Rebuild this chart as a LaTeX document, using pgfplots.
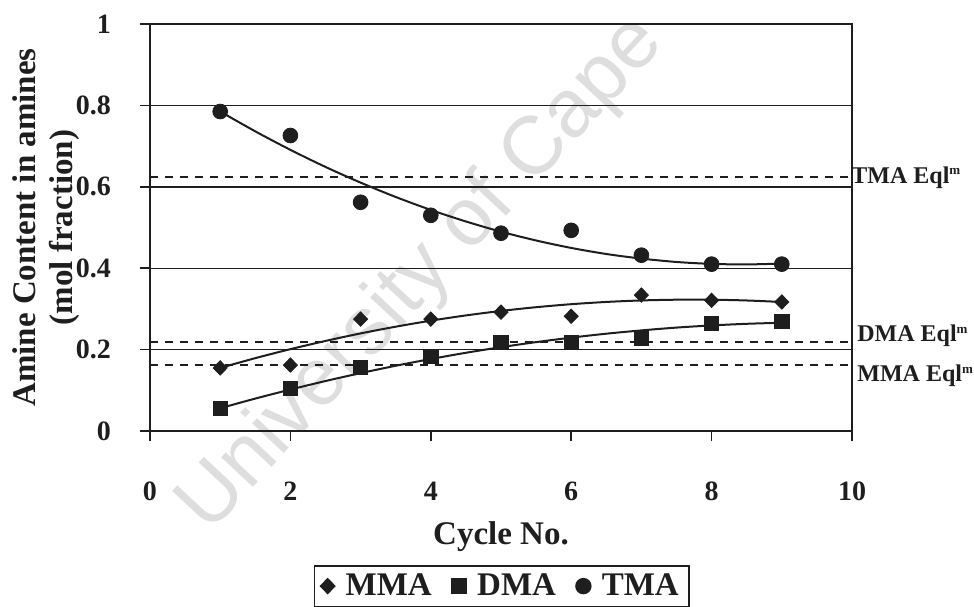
\documentclass[border=0pt]{standalone}
\usepackage{pgfplots}
\pgfplotsset{compat=1.18}
\usepackage{fontspec}
\setmainfont{Liberation Serif}
\setsansfont{Liberation Sans}
\definecolor{ink}{HTML}{1E1E1E}
\definecolor{wm}{HTML}{DEDEDE}
\newcommand{\eqsup}{\raisebox{0.75ex}{\fontsize{6.5}{6.5}\selectfont m}}
\begin{document}
\begin{tikzpicture}[x=1pt,y=1pt]
\node[rotate=47, inner sep=0pt, font=\sffamily\fontsize{41}{41}\selectfont, text=wm] at (136,78) {University of Cape};
\begin{axis}[
 at={(0,0)}, anchor=south west,
 scale only axis, width=351pt, height=203.5pt,
 xmin=0, xmax=10, ymin=0, ymax=1,
 xtick={0,2,4,6,8,10}, ytick={0,0.2,0.4,0.6,0.8,1},
 tick align=outside, xtick pos=left, ytick pos=left,
 major tick length=5pt,
 axis line style={ink, line width=0.8pt},
 tick style={ink, line width=0.8pt},
 ymajorgrids, grid style={ink, line width=0.7pt, solid},
 /pgf/number format/assume math mode=true,
 tick label style={font=\bfseries\fontsize{14}{14}\selectfont, text=ink},
 xticklabel style={yshift=-17pt},
 yticklabel style={xshift=-11pt},
 xlabel={Cycle No.},
 xlabel style={at={(axis description cs:0.5,-0.26)}, anchor=center, font=\bfseries\fontsize{16.5}{16.5}\selectfont, text=ink},
 ylabel={Amine Content in amines\\(mol fraction)},
 ylabel style={at={(axis description cs:-0.0997,0.5)}, anchor=south, align=center, inner sep=0pt, font=\bfseries\fontsize{16.5}{18.5}\selectfont, text=ink},
 clip=false,
 legend columns=3,
 legend style={at={(0.501,-0.329)}, anchor=north, draw=ink, line width=0.8pt,
   font=\bfseries\fontsize{16.5}{16.5}\selectfont, text=ink,
   /tikz/every odd column/.append style={column sep=3.5pt},
   /tikz/every even column/.append style={column sep=8pt}},
]
% equilibrium lines
\addplot[ink, line width=1pt, dash pattern=on 4pt off 3.5pt, forget plot] coordinates {(0,0.623) (10,0.623)};
\addplot[ink, line width=1pt, dash pattern=on 4pt off 3.5pt, forget plot] coordinates {(0,0.218) (10,0.218)};
\addplot[ink, line width=1pt, dash pattern=on 4pt off 3.5pt, forget plot] coordinates {(0,0.162) (10,0.162)};
% trend lines
\addplot[ink, line width=1pt, smooth, no marks, forget plot] coordinates {
(1,0.7850) (1.5,0.7362) (2,0.6908) (2.5,0.6488) (3,0.6103) (3.5,0.5750) (4,0.5432) (4.5,0.5148) (5,0.4897) (5.5,0.4681) (6,0.4498) (6.5,0.4349) (7,0.4236) (7.5,0.4153) (8,0.4106) (8.5,0.4093) (9,0.4114)};
\addplot[ink, line width=1pt, smooth, no marks, forget plot] coordinates {
(1,0.155) (1.5,0.1790) (2,0.2011) (2.5,0.2213) (3,0.2398) (3.5,0.2563) (4,0.2711) (4.5,0.2840) (5,0.2950) (5.5,0.3042) (6,0.3116) (6.5,0.3171) (7,0.3208) (7.5,0.3226) (8,0.3226) (8.5,0.3207) (9,0.3170)};
\addplot[ink, line width=1pt, smooth, no marks, forget plot] coordinates {
(1,0.0560) (1.5,0.0797) (2,0.1019) (2.5,0.1228) (3,0.1422) (3.5,0.1603) (4,0.1769) (4.5,0.1922) (5,0.2060) (5.5,0.2184) (6,0.2294) (6.5,0.2391) (7,0.2472) (7.5,0.2541) (8,0.2594) (8.5,0.2634) (9,0.2660)};
% data
\addplot[only marks, mark=diamond*, mark size=3.6pt, ink, mark options={fill=ink, draw=ink, xscale=1.3}] coordinates {
(1,0.155) (2,0.162) (3,0.275) (4,0.275) (5,0.292) (6,0.282) (7,0.334) (8,0.321) (9,0.317)};
\addlegendentry{MMA}
\addplot[only marks, mark=square*, mark size=3.6pt, ink, mark options={fill=ink, draw=ink}] coordinates {
(1,0.056) (2,0.105) (3,0.157) (4,0.184) (5,0.218) (6,0.218) (7,0.228) (8,0.265) (9,0.270)};
\addlegendentry{DMA}
\addplot[only marks, mark=*, mark size=3.7pt, ink, mark options={fill=ink, draw=ink}] coordinates {
(1,0.785) (2,0.726) (3,0.562) (4,0.530) (5,0.486) (6,0.493) (7,0.432) (8,0.410) (9,0.410)};
\addlegendentry{TMA}
% equilibrium labels
\node[anchor=west, inner sep=0pt, xshift=-0.5pt, font=\bfseries\fontsize{12}{12}\selectfont, text=ink] at (axis cs:10,0.623) {TMA Eql\eqsup};
\node[anchor=west, inner sep=0pt, xshift=2.5pt, font=\bfseries\fontsize{12}{12}\selectfont, text=ink] at (axis cs:10,0.233) {DMA Eql\eqsup};
\node[anchor=west, inner sep=0pt, xshift=2.5pt, font=\bfseries\fontsize{12}{12}\selectfont, text=ink] at (axis cs:10,0.135) {MMA Eql\eqsup};
\end{axis}
\pgfresetboundingbox
\path[use as bounding box] (-75,-87.5) rectangle (412,215.5);
\end{tikzpicture}
\end{document}
